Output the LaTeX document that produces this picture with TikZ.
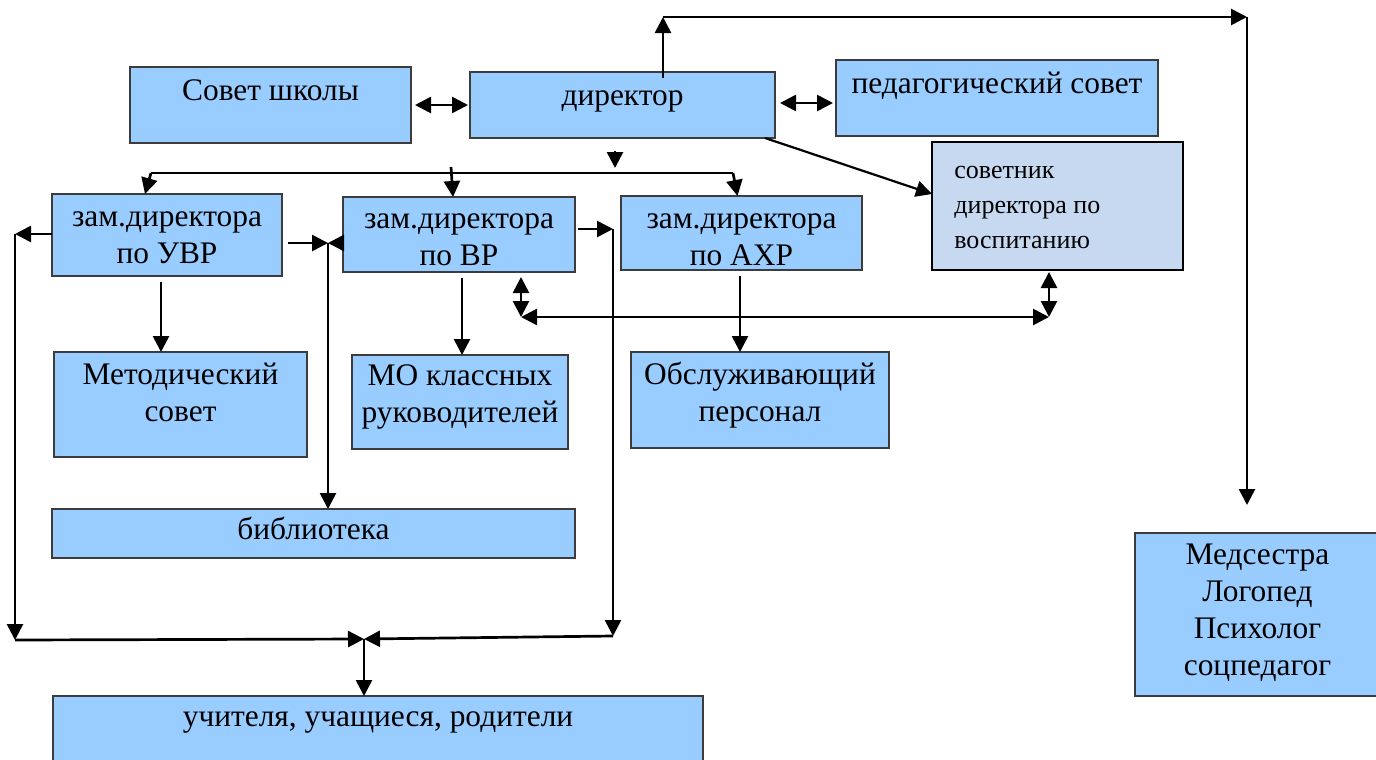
\documentclass[tikz,border=0pt]{standalone}
\usepackage{fontspec}
\setmainfont{Liberation Serif}
\usetikzlibrary{arrows.meta}
\definecolor{boxblue}{HTML}{99CCFF}
\definecolor{boxpale}{HTML}{C6D9F1}
\definecolor{boxline}{HTML}{3C3C3C}

\begin{document}
\begin{tikzpicture}[x=0.5pt,y=-0.5pt,line width=1.35pt,
  >={Triangle[length=8pt,width=8pt]},
  box/.style={draw=boxline,line width=0.7pt,fill=boxblue,anchor=north west,inner sep=0pt,outer sep=0pt},
  txt/.style={anchor=north,inner sep=0pt,align=center,font=\fontsize{15.7}{18.5}\selectfont},
  smalltxt/.style={anchor=north west,inner sep=0pt,align=left,font=\fontsize{13}{17.5}\selectfont}]
\useasboundingbox (0,0) rectangle (1376,760);
\node[box,minimum width=140.5pt,minimum height=38pt,label={[txt,yshift=-3pt]north:{\strut Совет школы}}] (sovet) at (130,67) {};
\node[box,minimum width=152.5pt,minimum height=33pt,label={[txt,yshift=-3pt]north:{\strut директор}}] (dir) at (470,72) {};
\node[box,minimum width=161pt,minimum height=38pt,label={[txt,yshift=-3pt]north:{\strut педагогический совет}}] (ped) at (836,60) {};
\node[box,draw=black,line width=1.2pt,fill=boxpale,minimum width=125.5pt,minimum height=64pt,
  label={[smalltxt,xshift=10.5pt,yshift=-5.5pt]north west:{\strut советник\\директора по\\воспитанию}}] (sovetnik) at (932,142) {};
\node[box,minimum width=115pt,minimum height=41pt,label={[txt,yshift=-2.5pt]north:{\strut зам.директора\\по УВР}}] (uvr) at (52,194) {};
\node[box,minimum width=116pt,minimum height=37.5pt,label={[txt,yshift=-2pt]north:{\strut зам.директора\\по ВР}}] (vr) at (343,197) {};
\node[box,minimum width=120.5pt,minimum height=37pt,label={[txt,yshift=-2.5pt]north:{\strut зам.директора\\по АХР}}] (ahr) at (621,196) {};
\node[box,minimum width=126.5pt,minimum height=52.5pt,label={[txt,yshift=-2.5pt]north:{\strut Методический\\совет}}] (metod) at (54,352) {};
\node[box,minimum width=108pt,minimum height=47pt,label={[txt,yshift=-1.5pt]north:{\strut МО классных\\руководителей}}] (mo) at (352,355) {};
\node[box,minimum width=129pt,minimum height=48pt,label={[txt,yshift=-2.5pt]north:{\strut Обслуживающий\\персонал}}] (obsl) at (631,352) {};
\node[box,minimum width=261.5pt,minimum height=24.5pt,label={[txt,yshift=-1.5pt]north:{\strut библиотека}}] (lib) at (52,509) {};
\node[box,minimum width=325pt,minimum height=40pt,label={[txt,yshift=-1.5pt]north:{\strut учителя, учащиеся, родители}}] (uchit) at (53,696) {};
\node[box,minimum width=122.5pt,minimum height=81.5pt,label={[txt,yshift=-2pt]north:{\strut Медсестра\\Логопед\\Психолог\\соцпедагог}}] (med) at (1135,533) {};
\coordinate (t1) at (663,17);
\coordinate (t2) at (1247,17);
\coordinate (t3) at (1247,505);
\coordinate (s0) at (615,168);
\coordinate (s1) at (151,173);
\coordinate (s2) at (733,173);
\coordinate (s3) at (451,167);
\coordinate (l1) at (15,234);
\coordinate (l2) at (15,640);
\coordinate (m1) at (364,639);
\coordinate (c1) at (328,243);
\coordinate (r1) at (613,229);
\coordinate (r2) at (613,636);
\coordinate (d1) at (521,317);
\coordinate (d2) at (1049,317);
\draw[<->] ([xshift=2pt]sovet.east) -- ([xshift=-1pt]dir.west);
\draw[<->] ([xshift=2.5pt,yshift=1pt]dir.east) -- ([xshift=-1.5pt,yshift=1pt]dir.east -| ped.west);
\draw[->] ([yshift=-3pt]t1 |- dir.north) -- (t1);
\draw[->] (t1) -- (t2);
\draw[->] (t2) -- (t3);
\draw[->] ([yshift=8.5pt]s0) -- (s0);
\draw (s1) -- (s2);
\draw[->] (s1) -- ([xshift=-11pt]uvr.north);
\draw[->] (s3) -- ([xshift=-3pt]vr.north);
\draw[->] (s2) -- ([xshift=-2pt]ahr.north);
\draw[->,line width=1.1pt] ([xshift=-5pt]dir.south east) -- ([yshift=6pt]sovetnik.west);
\draw[->] (uvr.west |- l1) -- (l1);
\draw[->] (l1) -- (l2);
\draw[->] (l2) -- (m1);
\draw[->] ([xshift=3pt]uvr.east |- c1) -- (c1);
\draw[->] (vr.west |- c1) -- (c1);
\draw[->] (c1) -- (c1 |- lib.north);
\draw[->] ([xshift=1.5pt]vr.east |- r1) -- (r1);
\draw[->] (r1) -- (r2);
\draw[->] (r2) -- (m1);
\draw[->] (m1) -- (m1 |- uchit.north);
\draw[->] ([xshift=-3pt,yshift=-3pt]uvr.south) -- ([xshift=-3pt]uvr.south |- metod.north);
\draw[->] ([xshift=1.5pt,yshift=-3pt]vr.south) -- ([xshift=1.5pt]vr.south |- mo.north);
\draw[->] ([xshift=-0.75pt,yshift=-3pt]ahr.south) -- ([xshift=-0.75pt]ahr.south |- obsl.north);
\draw[<->] ([yshift=-2.5pt]vr.south -| d1) -- (d1);
\draw[<->] (d1) -- (d2);
\draw[<->] ([yshift=-1pt]sovetnik.south -| d2) -- (d2);
\end{tikzpicture}
\end{document}
